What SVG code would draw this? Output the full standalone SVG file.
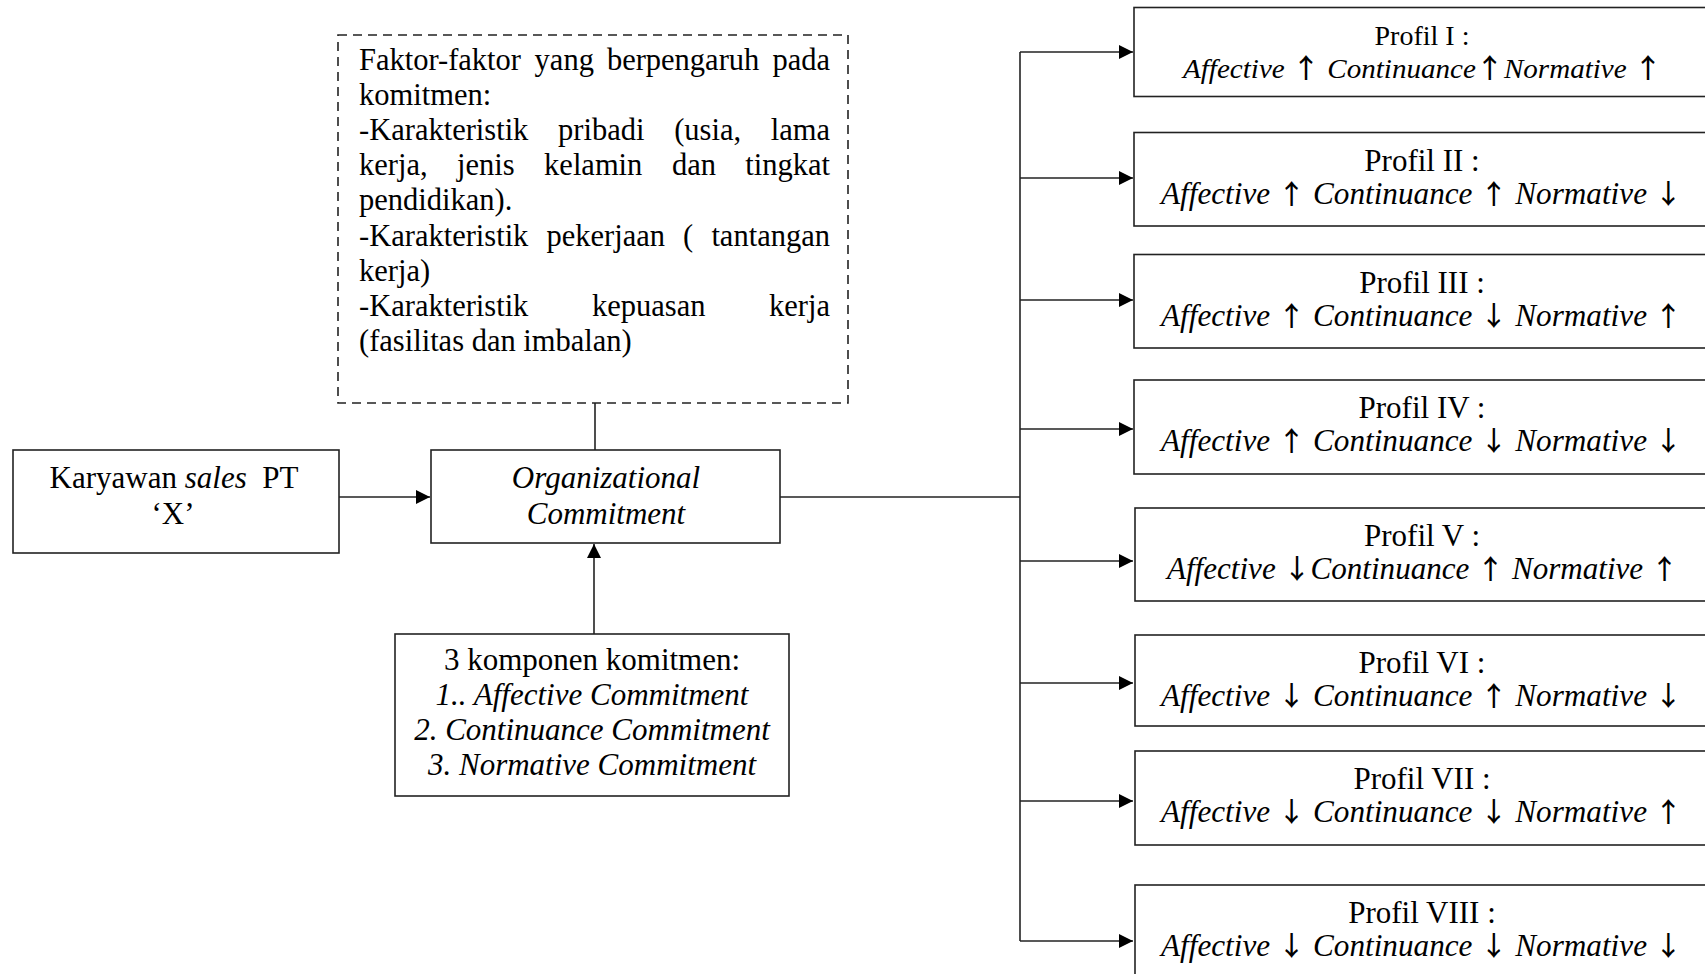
<svg xmlns="http://www.w3.org/2000/svg" width="1705" height="974" viewBox="0 0 1705 974">
<style>
  .box { fill: #fff; stroke: #222; stroke-width: 1.6; }
  .dash { fill: #fff; stroke: #222; stroke-width: 1.6; stroke-dasharray: 9 6; }
  .ln { fill: none; stroke: #222; stroke-width: 1.6; }
  .t { font-family: "Liberation Serif", "Times New Roman", serif; font-size: 31px; fill: #000; }
  .tp { font-family: "Liberation Serif", "Times New Roman", serif; font-size: 30.5px; fill: #000; }
  .i { font-style: italic; }
  .n { font-style: normal; font-family: "Noto Sans CJK SC", "DejaVu Sans", sans-serif; font-weight: 500; font-size: 27px; }
  .m { text-anchor: middle; }
</style>
<defs>
  <marker id="ah" markerUnits="userSpaceOnUse" markerWidth="15" markerHeight="14" refX="14" refY="7" orient="auto">
    <path d="M0,0 L14,7 L0,14 z" fill="#000"/>
  </marker>
</defs>
<rect width="1705" height="974" fill="#fff"/>

<g id="connectors">
  <line class="ln" x1="339" y1="497" x2="430" y2="497" marker-end="url(#ah)"/>
  <line class="ln" x1="595" y1="403" x2="595" y2="450"/>
  <line class="ln" x1="594" y1="634" x2="594" y2="544" marker-end="url(#ah)"/>
  <line class="ln" x1="780" y1="497" x2="1020" y2="497"/>
  <line class="ln" x1="1020" y1="52" x2="1020" y2="941"/>
  <line class="ln" x1="1020" y1="52" x2="1133" y2="52" marker-end="url(#ah)"/>
  <line class="ln" x1="1020" y1="178" x2="1133" y2="178" marker-end="url(#ah)"/>
  <line class="ln" x1="1020" y1="300" x2="1133" y2="300" marker-end="url(#ah)"/>
  <line class="ln" x1="1020" y1="429" x2="1133" y2="429" marker-end="url(#ah)"/>
  <line class="ln" x1="1020" y1="561" x2="1133" y2="561" marker-end="url(#ah)"/>
  <line class="ln" x1="1020" y1="683" x2="1133" y2="683" marker-end="url(#ah)"/>
  <line class="ln" x1="1020" y1="801" x2="1133" y2="801" marker-end="url(#ah)"/>
  <line class="ln" x1="1020" y1="941" x2="1133" y2="941" marker-end="url(#ah)"/>
</g>

<g id="faktor">
  <rect class="dash" x="338" y="35" width="510" height="368"/>
  <text class="tp" y="69.5"><tspan x="359">Faktor-faktor</tspan><tspan x="534.6">yang</tspan><tspan x="606.9">berpengaruh</tspan><tspan x="772.4">pada</tspan></text>
  <text class="tp" x="359" y="104.7">komitmen:</text>
  <text class="tp" y="139.9"><tspan x="359">-Karakteristik</tspan><tspan x="558.1">pribadi</tspan><tspan x="674.2">(usia,</tspan><tspan x="770.8">lama</tspan></text>
  <text class="tp" y="175.1"><tspan x="359">kerja,</tspan><tspan x="457">jenis</tspan><tspan x="544.1">kelamin</tspan><tspan x="671.9">dan</tspan><tspan x="745.3">tingkat</tspan></text>
  <text class="tp" x="359" y="210.3">pendidikan).</text>
  <text class="tp" y="245.5"><tspan x="359">-Karakteristik</tspan><tspan x="546.5">pekerjaan</tspan><tspan x="683.1">(</tspan><tspan x="711.4">tantangan</tspan></text>
  <text class="tp" x="359" y="280.7">kerja)</text>
  <text class="tp" y="315.9"><tspan x="359">-Karakteristik</tspan><tspan x="592">kepuasan</tspan><tspan x="769">kerja</tspan></text>
  <text class="tp" x="359" y="351.1">(fasilitas dan imbalan)</text>
</g>

<g id="karyawan">
  <rect class="box" x="13" y="450" width="326" height="103"/>
  <text class="t m" x="174" y="488" xml:space="preserve">Karyawan <tspan class="i">sales</tspan>  PT</text>
  <text class="t m" x="173" y="524">‘X’</text>
</g>

<g id="org-commitment">
  <rect class="box" x="431" y="450" width="349" height="93"/>
  <text class="t m i" x="606" y="488">Organizational</text>
  <text class="t m i" x="606" y="524">Commitment</text>
</g>

<g id="komponen">
  <rect class="box" x="395" y="634" width="394" height="162"/>
  <text class="t m" x="592" y="670">3 komponen komitmen:</text>
  <text class="t m i" x="592" y="705">1.. Affective Commitment</text>
  <text class="t m i" x="592" y="740">2. Continuance Commitment</text>
  <text class="t m i" x="592" y="775">3. Normative Commitment</text>
</g>

<g id="profil-1">
  <rect class="box" x="1134" y="7.5" width="600" height="89"/>
  <text class="t m" x="1422" y="44.5" style="font-size:28px">Profil I :</text>
  <text class="t i" x="1183" y="78" style="font-size:28px" textLength="479" lengthAdjust="spacingAndGlyphs">Affective <tspan class="n">↑</tspan> Continuance<tspan class="n">↑</tspan>Normative <tspan class="n">↑</tspan></text>
</g>

<g id="profil-2">
  <rect class="box" x="1134" y="132.5" width="600" height="93.5"/>
  <text class="t m" x="1422" y="170.5">Profil II :</text>
  <text class="t i" x="1161" y="203.5" textLength="521" lengthAdjust="spacingAndGlyphs">Affective <tspan class="n">↑</tspan> Continuance <tspan class="n">↑</tspan> Normative <tspan class="n">↓</tspan></text>
</g>

<g id="profil-3">
  <rect class="box" x="1134" y="254.5" width="600" height="93.5"/>
  <text class="t m" x="1422" y="292.5">Profil III :</text>
  <text class="t i" x="1161" y="325.5" textLength="521" lengthAdjust="spacingAndGlyphs">Affective <tspan class="n">↑</tspan> Continuance <tspan class="n">↓</tspan> Normative <tspan class="n">↑</tspan></text>
</g>

<g id="profil-4">
  <rect class="box" x="1134" y="380" width="600" height="94"/>
  <text class="t m" x="1422" y="418">Profil IV :</text>
  <text class="t i" x="1161" y="451" textLength="521" lengthAdjust="spacingAndGlyphs">Affective <tspan class="n">↑</tspan> Continuance <tspan class="n">↓</tspan> Normative <tspan class="n">↓</tspan></text>
</g>

<g id="profil-5">
  <rect class="box" x="1135" y="508" width="600" height="93"/>
  <text class="t m" x="1422" y="546">Profil V :</text>
  <text class="t i" x="1167" y="579" textLength="511" lengthAdjust="spacingAndGlyphs">Affective <tspan class="n">↓</tspan>Continuance <tspan class="n">↑</tspan> Normative <tspan class="n">↑</tspan></text>
</g>

<g id="profil-6">
  <rect class="box" x="1135" y="635" width="600" height="91"/>
  <text class="t m" x="1422" y="673">Profil VI :</text>
  <text class="t i" x="1161" y="706" textLength="521" lengthAdjust="spacingAndGlyphs">Affective <tspan class="n">↓</tspan> Continuance <tspan class="n">↑</tspan> Normative <tspan class="n">↓</tspan></text>
</g>

<g id="profil-7">
  <rect class="box" x="1135" y="751" width="600" height="94"/>
  <text class="t m" x="1422" y="789">Profil VII :</text>
  <text class="t i" x="1161" y="822" textLength="521" lengthAdjust="spacingAndGlyphs">Affective <tspan class="n">↓</tspan> Continuance <tspan class="n">↓</tspan> Normative <tspan class="n">↑</tspan></text>
</g>

<g id="profil-8">
  <rect class="box" x="1135" y="885" width="600" height="120"/>
  <text class="t m" x="1422" y="923">Profil VIII :</text>
  <text class="t i" x="1161" y="956" textLength="521" lengthAdjust="spacingAndGlyphs">Affective <tspan class="n">↓</tspan> Continuance <tspan class="n">↓</tspan> Normative <tspan class="n">↓</tspan></text>
</g>
</svg>
